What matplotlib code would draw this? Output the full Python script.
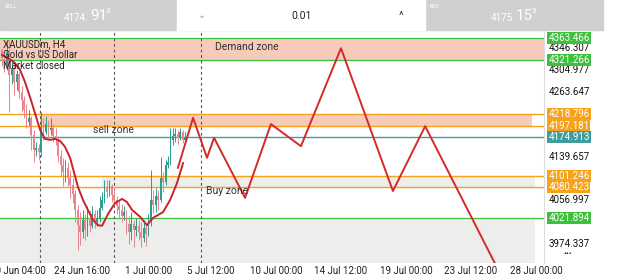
import matplotlib.pyplot as plt
import matplotlib.transforms as mtransforms
from matplotlib.patches import Rectangle

plt.rcParams['font.family'] = ['Roboto', 'DejaVu Sans']

# H4 candles (bar index = position on chart, weekend gaps skipped)
first_open = 4340
close = [4325, 4310, 4337, 4293, 4306, 4280, 4295, 4261, 4246, 4227,
         4204, 4212, 4179, 4151, 4155, 4147, 4193, 4185, 4200, 4189,
         4193, 4177, 4170, 4139, 4122, 4109, 4117, 4098, 4084, 4067,
         4037, 4009, 3995, 4018, 3999, 4022, 4007, 4029, 4014, 4022,
         4041, 4056, 4079, 4071, 4083, 4065, 4056, 4045, 4037, 4026,
         4033, 4010, 3995, 4010, 3999, 4007, 3995, 3984, 4003, 3991,
         4014, 4056, 4046, 4063, 4056, 4098, 4090, 4122, 4128, 4170,
         4177, 4181, 4174, 4185, 4170, 4175]
high = [4344, 4331, 4356, 4360, 4322, 4314, 4303, 4299, 4272, 4253,
        4238, 4227, 4215, 4189, 4166, 4162, 4223, 4212, 4215, 4208,
        4212, 4200, 4193, 4177, 4151, 4136, 4132, 4128, 4113, 4098,
        4075, 4046, 4033, 4037, 4029, 4045, 4037, 4045, 4037, 4037,
        4064, 4071, 4094, 4094, 4094, 4086, 4079, 4064, 4056, 4048,
        4045, 4037, 4026, 4033, 4018, 4022, 4018, 4014, 4018, 4010,
        4029, 4113, 4075, 4079, 4075, 4138, 4109, 4132, 4139, 4193,
        4193, 4193, 4189, 4193, 4189, 4185]
low = [4310, 4299, 4303, 4223, 4276, 4255, 4265, 4250, 4223, 4212,
       4193, 4196, 4151, 4128, 4139, 4132, 4139, 4170, 4181, 4174,
       4179, 4166, 4160, 4128, 4101, 4082, 4090, 4082, 4060, 4050,
       4014, 3961, 3970, 3984, 3980, 3988, 3995, 4003, 4003, 4007,
       4014, 4037, 4050, 4060, 4064, 4052, 4045, 4029, 4022, 4014,
       4018, 3991, 3972, 3980, 3967, 3988, 3980, 3967, 3976, 3969,
       3988, 4007, 4031, 4033, 4037, 4052, 4071, 4084, 4117, 4122,
       4160, 4166, 4162, 4170, 4164, 4162]
opens = [first_open] + close[:-1]

# moving average line
ma_x = [0, 2.5, 4.9, 7.4, 9.4, 11.5, 13.5, 15.6, 17.6, 19.7, 21.7, 23.8,
        25.8, 27.9, 31.1, 33.2, 35.2, 37.3, 39.3, 41.0, 43.4, 46.3, 49.2,
        51.2, 53.3, 56.6, 59.4, 61.9, 66.0, 68.9, 71.7, 74.2]
ma_y = [4331, 4325, 4318, 4303, 4280, 4251, 4221, 4189, 4172, 4170, 4172,
        4168, 4157, 4136, 4081, 4056, 4037, 4018, 4008, 4007, 4029, 4050,
        4058, 4052, 4037, 4024, 4008, 4022, 4033, 4056, 4088, 4126]

# hand drawn projection
path_x = [72.1, 78.3, 84.0, 86.9, 99.6, 110.2, 122.5, 138.9, 160.2, 173.4, 202.5]
path_y = [4117, 4212, 4136, 4174, 4060, 4200, 4158, 4344, 4073, 4196, 3931]

# horizontal levels
demand_zone = (4321.266, 4363.466)
sell_zone = (4197.181, 4218.796)
buy_zone = (4080.423, 4101.246)
support = 4021.894
bid = 4174.913
axis_prices = [4346.307, 4304.977, 4263.647, 4139.657, 4056.997, 3974.337]

separators = [15.6, 45.9, 81.6]
tick_pos = [6.35, 32.8, 60.2, 85.7, 112.3, 138.9, 165.6, 192.2, 218.9]
tick_labels = ['20 Jun 04:00', '24 Jun 16:00', '1 Jul 00:00', '5 Jul 12:00',
               '10 Jul 00:00', '14 Jul 12:00', '19 Jul 00:00', '23 Jul 12:00',
               '28 Jul 00:00']

green = '#3cc13b'
orange = '#f7a21b'
teal = '#3f9e9b'
pink = '#f6cbbb'
gray_fill = '#ededeb'

fig = plt.figure(figsize=(6.25, 2.79), dpi=100)
ax = fig.add_axes([0, 0.0573, 0.8704, 0.8316])
ax.set_xlim(-0.82, 222.1)
ax.set_ylim(3936.3, 4376.7)
tr = mtransforms.blended_transform_factory(ax.transAxes, ax.transData)

# zones
ax.axhspan(3936.3, support, xmin=0, xmax=0.9835, color=gray_fill, lw=0, zorder=0)
ax.axhspan(*demand_zone, xmin=0, xmax=1, color=pink, lw=0, zorder=0)
ax.axhspan(*sell_zone, xmin=0.0735, xmax=0.978, color=pink, lw=0, zorder=0)
ax.axhspan(*buy_zone, xmin=0.1875, xmax=0.9835, color=gray_fill, lw=0, zorder=0)

for p in demand_zone:
    ax.axhline(p, color=green, lw=0.9, zorder=1)
for p in sell_zone + buy_zone:
    ax.axhline(p, color=orange, lw=1.0, zorder=1)
ax.axhline(support, color=green, lw=0.9, zorder=1)
ax.axhline(bid, color=teal, lw=1.0, zorder=1)

for s in separators:
    ax.axvline(s, color='#555555', lw=0.8, ls=(0, (2.5, 2.5)), zorder=1)

# candles
up = '#2a9d8f'
down = '#e8868c'
for i in range(len(close)):
    c = up if close[i] >= opens[i] else down
    ax.vlines(i, low[i], high[i], color=c, lw=0.7, zorder=2)
    ax.bar(i, abs(close[i] - opens[i]) or 1, bottom=min(close[i], opens[i]),
           width=0.7, color=c, lw=0, zorder=2)

ax.plot(ma_x, ma_y, color='#c8232b', lw=1.4, zorder=3)
ax.plot(path_x, path_y, color='#d42a2a', lw=1.4, zorder=3)

# chart texts
ax.text(0.006, 0.965, 'XAUUSDm, H4\nGold vs US Dollar\nMarket closed',
        transform=ax.transAxes, fontsize=7, va='top', linespacing=1.1,
        color='#222222')
ax.text(215 / 544, 4346, 'Demand zone', transform=tr, fontsize=7.5, va='center', color='#333333')
ax.text(93 / 544, 4189, 'sell zone', transform=tr, fontsize=7.5, va='center', color='#333333')
ax.text(206 / 544, 4073, 'Buy zone', transform=tr, fontsize=7.5, va='center', color='#333333')

# right price scale
for p in axis_prices:
    ax.text(1.008, p - 2, f'{p:.3f}', transform=tr, fontsize=7, va='center',
            color='#111111', clip_on=False)
boxes = [(demand_zone[1], green), (demand_zone[0], green), (sell_zone[1], orange),
         (sell_zone[0], orange), (bid, teal), (buy_zone[1], orange),
         (buy_zone[0], orange), (support, green)]
for p, col in boxes:
    ax.text(1.008, p, f'{p:.3f}', transform=tr, fontsize=7, va='center',
            color='white', clip_on=False,
            bbox=dict(boxstyle='square,pad=0.1', fc=col, ec='none'))

ax.set_xticks(tick_pos, tick_labels)
ax.set_yticks([])
ax.tick_params(axis='x', length=0, pad=2, labelsize=7, labelcolor='#222222')
for side in ['top', 'left', 'bottom']:
    ax.spines[side].set_visible(False)
ax.spines['right'].set_color('#dddddd')
ax.spines['right'].set_linewidth(0.8)

fig.text(563 / 625, 1 - 254 / 279, '•••', fontsize=6, va='center', color='#111111')

# top trading bar
fig.patches.append(Rectangle((0, 1 - 30 / 279), 603 / 625, 30 / 279,
                             transform=fig.transFigure, color='#d0d0d0', zorder=0))
fig.patches.append(Rectangle((177 / 625, 1 - 30 / 279), 248 / 625, 30 / 279,
                             transform=fig.transFigure, color='white', zorder=1))
fig.text(5 / 625, 1 - 7 / 279, 'SELL', fontsize=4, color='white', va='center')
fig.text(430 / 625, 1 - 7 / 279, 'BUY', fontsize=4, color='white', va='center')
fig.text(64 / 625, 1 - 18 / 279, '4174.', fontsize=7, color='white', va='center')
fig.text(90 / 625, 1 - 16 / 279, '91', fontsize=11, color='white', va='center')
fig.text(106 / 625, 1 - 11 / 279, '3', fontsize=6, color='white', va='center')
fig.text(491 / 625, 1 - 18 / 279, '4175.', fontsize=7, color='white', va='center')
fig.text(516 / 625, 1 - 16 / 279, '15', fontsize=11, color='white', va='center')
fig.text(532 / 625, 1 - 11 / 279, '3', fontsize=6, color='white', va='center')
fig.text(302 / 625, 1 - 16 / 279, '0.01', fontsize=7.5, color='#222222', ha='center', va='center')
fig.text(202 / 625, 1 - 15 / 279, '⌄', fontsize=7, color='#999999', ha='center', va='center')
fig.text(401 / 625, 1 - 16 / 279, '^', fontsize=8, color='#333333', ha='center', va='center')

fig.savefig('out.png', dpi=100)
